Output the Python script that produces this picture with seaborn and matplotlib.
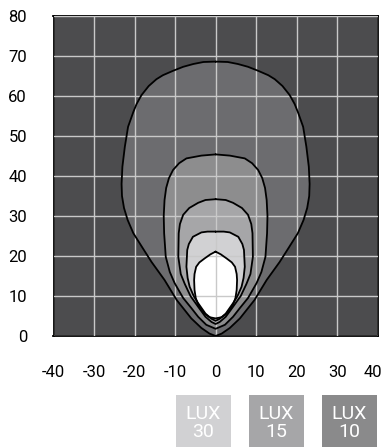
import matplotlib
matplotlib.use("Agg")
import matplotlib.pyplot as plt
from matplotlib import font_manager
from matplotlib.patches import Rectangle
from matplotlib.transforms import ScaledTranslation
import seaborn as sns
import pandas as pd

# ---- data: right-half isolux profiles (x, y), mirrored about x = 0 ----
outer_x = [0, 3, 5.5, 8, 10.5, 13, 14.6, 16.5, 18.3, 19.5, 20.3, 21.6, 22.4, 23, 23.2, 23.1,
           22.6, 21.7, 20.3, 18, 15.8, 12.6, 9.6, 6, 3.5, 1.5, 0]
outer_y = [68.6, 68.5, 68, 67.3, 66.3, 65.2, 64.2, 62.5, 60.2, 58, 56, 52.3, 47.3, 42.3, 38, 35,
           32, 29, 25.7, 22, 18.5, 14, 9, 4.4, 2, 0.6, 0]

lux10_x = [0, 3.5, 7.2, 9, 10.5, 11.5, 12.2, 12.6, 12.8, 12.7, 12.3, 11.3, 10.1, 8, 6, 4.3, 2.3, 0]
lux10_y = [45.4, 45.1, 44.4, 43.2, 41.5, 39.5, 37, 34, 30, 25.7, 19.8, 16, 13.2, 9.5, 7, 4.8, 2.8, 1.8]

lux15_x = [0, 2.5, 4.3, 6.5, 8, 8.8, 9.1, 9.2, 8.6, 7.6, 6.2, 4.3, 2.5, 1, 0]
lux15_y = [34.2, 34, 33.3, 32, 30.3, 28, 25.7, 19.8, 15.5, 13, 10, 7.3, 4.8, 3.5, 3]

lux30_x = [0, 2, 3.5, 5.6, 6.6, 7, 7.2, 6.9, 6.4, 5.4, 4.3, 2.5, 1, 0]
lux30_y = [26.1, 26.1, 25.9, 24.8, 23, 21.5, 17.3, 14.5, 12.3, 10, 8.2, 5.6, 4.3, 3.8]

inner_x = [0, 1.3, 2.7, 4, 4.8, 5.2, 5.3, 5.2, 4.9, 4.3, 3.5, 2.5, 1.5, 0]
inner_y = [21.1, 20.4, 19.4, 18.4, 17.3, 15.5, 14, 11.5, 9.5, 7.8, 6.5, 5.4, 4.7, 4.4]

x_ticks = [-40, -30, -20, -10, 0, 10, 20, 30, 40]
y_ticks = [0, 10, 20, 30, 40, 50, 60, 70, 80]
legend_labels = ["LUX\n30", "LUX\n15", "LUX\n10"]

# ---- style ----
bg_color = "#4c4c4e"
fill_colors = ["#6c6c6f", "#8d8d8e", "#a6a6a8", "#d1d1d3", "#ffffff"]
legend_colors = ["#d1d1d3", "#a6a6a8", "#8a8a8b"]

sns.set_style("white")
installed = {f.name for f in font_manager.fontManager.ttflist}
fam = [f for f in ["Liberation Sans Narrow", "Roboto", "DejaVu Sans"] if f in installed]
plt.rcParams["font.family"] = fam


def full_outline(hx, hy):
    xs = list(hx) + [-v for v in reversed(hx[:-1])]
    ys = list(hy) + list(reversed(hy[:-1]))
    return xs, ys


fig = plt.figure(figsize=(3.83, 4.47), dpi=100)
ax = fig.add_axes([53.5 / 383, 1 - 336 / 447, (377.7 - 53.5) / 383, 320 / 447])
ax.set_facecolor(bg_color)

profiles = [(outer_x, outer_y), (lux10_x, lux10_y), (lux15_x, lux15_y),
            (lux30_x, lux30_y), (inner_x, inner_y)]
for i, ((hx, hy), col) in enumerate(zip(profiles, fill_colors)):
    xs, ys = full_outline(hx, hy)
    ax.fill(xs, ys, color=col, lw=0, zorder=1 + i * 0.01)
    df = pd.DataFrame({"x": xs, "y": ys})
    sns.lineplot(data=df, x="x", y="y", sort=False, estimator=None, color="black",
                 lw=1.3, ax=ax, zorder=3)

ax.set_xlim(-40, 40)
ax.set_ylim(0, 80)
ax.set_xticks(x_ticks)
ax.set_yticks(y_ticks)
ax.set_xticklabels([str(v) for v in x_ticks])
ax.set_yticklabels([str(v) for v in y_ticks])
ax.set_xlabel("")
ax.set_ylabel("")
ax.grid(True, color="#c9c9c9", lw=1.0, zorder=2)
ax.set_axisbelow(False)
for gl in ax.get_xgridlines() + ax.get_ygridlines():
    gl.set_zorder(2)
ax.tick_params(axis="both", length=0, labelsize=12, colors="black")
ax.tick_params(axis="y", pad=19)
ax.tick_params(axis="x", pad=21)
for s in ax.spines.values():
    s.set_color("black")
    s.set_linewidth(1.3)
    s.set_visible(True)

# last x label nudged inward as in the reference
xl = ax.get_xticklabels()
xl[-1].set_transform(xl[-1].get_transform() + ScaledTranslation(-5 / 100, 0, fig.dpi_scale_trans))

# legend boxes
box_lefts = [176, 249, 322]
for lab, col, bl in zip(legend_labels, legend_colors, box_lefts):
    r = Rectangle((bl / 383, 0), 55 / 383, 52 / 447, transform=fig.transFigure,
                  facecolor=col, edgecolor="none")
    fig.patches.append(r)
    fig.text((bl + 27.5) / 383, 24 / 447, lab, ha="center", va="center",
             color="white", fontsize=14, linespacing=1.05)

fig.savefig("out.png", dpi=100)
